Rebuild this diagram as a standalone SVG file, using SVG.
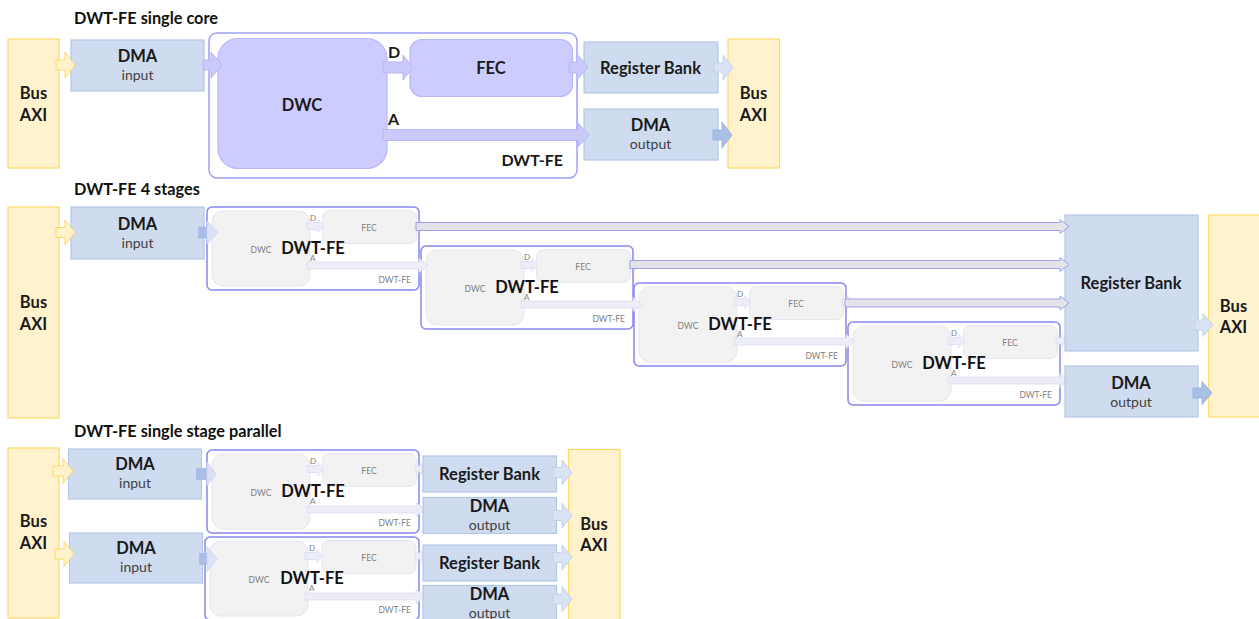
<svg xmlns="http://www.w3.org/2000/svg" width="1259" height="619" viewBox="0 0 1259 619">
<style>
text{font-family:Lato,"Open Sans","Liberation Sans",sans-serif;}
.title{font-size:16.3px;font-weight:bold;fill:#111;}
.bus{fill:#fff2cc;stroke:#ffd966;stroke-width:1.2;}
.blue{fill:#cfdcf0;stroke:#b4c7e7;stroke-width:1.2;}
.lbl{font-size:16.5px;font-weight:bold;fill:#1a1a1a;text-anchor:middle;}
.lbll{font-size:16px;font-weight:bold;fill:#1a1a1a;}
.sub{font-size:14px;fill:#404040;text-anchor:middle;}
.cont{fill:none;stroke:#a0a0fa;stroke-width:1.5;}
.purp{fill:#ccccff;stroke:#b6b6fb;stroke-width:1.2;}
.parr{fill:#c9c9fa;stroke:#b8b8f5;stroke-width:1;}
.yarr{fill:#fff2cc;stroke:#ffd966;stroke-width:1;}
.barr{fill:#dae3f3;stroke:#c3d1ec;stroke-width:1;}
.darr{fill:#aabfe6;stroke:#9db4e0;stroke-width:1;}
.stc{fill:none;stroke:#8787ee;stroke-width:1.5;}
.sbox{fill:#f2f2f2;stroke:#e6e6f3;stroke-width:1;}
.sarr{fill:#ededf7;stroke:#dcdcf3;stroke-width:0.8;}
.ssm{font-size:8.5px;fill:#7f7f7f;}
.sd{font-size:8px;fill:#7f7f7f;}
.big{font-size:16.5px;font-weight:bold;fill:#111;text-anchor:middle;}
.long{fill:#e4e4e8;stroke:#a0a0f0;stroke-width:1;}
.sq{fill:#a9bde6;stroke:none;}
.shead{fill:#dde0f4;stroke:#ccd0f0;stroke-width:0.8;}
</style>

<!-- Titles -->
<text class="title" x="74" y="24">DWT-FE single core</text>
<text class="title" x="74" y="195">DWT-FE 4 stages</text>
<text class="title" x="74" y="437">DWT-FE single stage parallel</text>

<!-- ===== Section 1 ===== -->
<g id="s1-bus-left"><rect class="bus" x="8" y="39" width="51" height="129"/><text class="lbl" x="33.5" y="99">Bus</text><text class="lbl" x="33.5" y="121">AXI</text></g>
<g id="s1-dma-input"><rect class="blue" x="71" y="40" width="133" height="51"/><text class="lbl" x="137.5" y="62">DMA</text><text class="sub" x="137.5" y="80">input</text></g>
<g id="s1-dwtfe"><rect class="cont" x="209" y="33" width="368" height="145" rx="8"/><text class="lbll" x="563" y="166" text-anchor="end">DWT-FE</text></g>
<g id="s1-dwc"><rect class="purp" x="218" y="38.5" width="169" height="130" rx="20"/><text class="lbl" x="302" y="111">DWC</text></g>
<g id="s1-fec"><rect class="purp" x="410" y="39.5" width="162.5" height="57" rx="12"/><text class="lbl" x="491" y="74">FEC</text></g>
<g id="s1-regbank"><rect class="blue" x="584" y="42" width="134" height="51"/><text class="lbl" x="650.5" y="74">Register Bank</text></g>
<g id="s1-dma-output"><rect class="blue" x="584" y="109" width="134" height="51"/><text class="lbl" x="650.5" y="131">DMA</text><text class="sub" x="650.5" y="148.5">output</text></g>
<g id="s1-bus-right"><rect class="bus" x="728" y="39" width="51.5" height="129"/><text class="lbl" x="753.5" y="99">Bus</text><text class="lbl" x="753.5" y="121">AXI</text></g>

<!-- ===== Section 2 ===== -->
<g id="s2-bus-left"><rect class="bus" x="8" y="207" width="51" height="211"/><text class="lbl" x="33.5" y="308">Bus</text><text class="lbl" x="33.5" y="330">AXI</text></g>
<g id="s2-dma-input"><rect class="blue" x="71" y="207" width="133" height="52"/><text class="lbl" x="137.5" y="229.5">DMA</text><text class="sub" x="137.5" y="247.5">input</text></g>

<g id="s2-stage4" transform="translate(848,322)">
<rect class="stc" x="0" y="0" width="212" height="83" rx="5"/>
<rect class="sbox" x="5" y="4" width="98" height="75" rx="11"/>
<rect class="sbox" x="115.5" y="3.5" width="94" height="33" rx="7"/>
<polygon class="sarr" points="100,15.5 111,15.5 111,12.5 117,19 111,25.5 111,22.5 100,22.5"/>
<polygon class="sarr" points="100,55 212,55 212,51.5 221,58.5 212,65.5 212,62 100,62"/>
<polygon class="sarr" points="208,16 213,16 213,13 218,19 213,25 213,22 208,22"/>
<text class="ssm" x="54" y="46" text-anchor="middle">DWC</text><text class="ssm" x="162" y="23.5" text-anchor="middle">FEC</text>
<text class="sd" x="103" y="13.5">D</text><text class="sd" x="103" y="53.5">A</text>
<text class="ssm" x="204" y="76" text-anchor="end">DWT-FE</text>
<text class="big" x="106" y="47">DWT-FE</text>
</g>
<g id="s2-stage3" transform="translate(634,283)">
<rect class="stc" x="0" y="0" width="212" height="83" rx="5"/>
<rect class="sbox" x="5" y="4" width="98" height="75" rx="11"/>
<rect class="sbox" x="115.5" y="3.5" width="94" height="33" rx="7"/>
<polygon class="sarr" points="100,15.5 111,15.5 111,12.5 117,19 111,25.5 111,22.5 100,22.5"/>
<polygon class="sarr" points="100,55 212,55 212,51.5 221,58.5 212,65.5 212,62 100,62"/>
<polygon class="sarr" points="208,16 213,16 213,13 218,19 213,25 213,22 208,22"/>
<text class="ssm" x="54" y="46" text-anchor="middle">DWC</text><text class="ssm" x="162" y="23.5" text-anchor="middle">FEC</text>
<text class="sd" x="103" y="13.5">D</text><text class="sd" x="103" y="53.5">A</text>
<text class="ssm" x="204" y="76" text-anchor="end">DWT-FE</text>
<text class="big" x="106" y="47">DWT-FE</text>
</g>
<g id="s2-stage2" transform="translate(421,246)">
<rect class="stc" x="0" y="0" width="212" height="83" rx="5"/>
<rect class="sbox" x="5" y="4" width="98" height="75" rx="11"/>
<rect class="sbox" x="115.5" y="3.5" width="94" height="33" rx="7"/>
<polygon class="sarr" points="100,15.5 111,15.5 111,12.5 117,19 111,25.5 111,22.5 100,22.5"/>
<polygon class="sarr" points="100,55 212,55 212,51.5 221,58.5 212,65.5 212,62 100,62"/>
<polygon class="sarr" points="208,16 213,16 213,13 218,19 213,25 213,22 208,22"/>
<text class="ssm" x="54" y="46" text-anchor="middle">DWC</text><text class="ssm" x="162" y="23.5" text-anchor="middle">FEC</text>
<text class="sd" x="103" y="13.5">D</text><text class="sd" x="103" y="53.5">A</text>
<text class="ssm" x="204" y="76" text-anchor="end">DWT-FE</text>
<text class="big" x="106" y="47">DWT-FE</text>
</g>
<g id="s2-stage1" transform="translate(207,207)">
<rect class="stc" x="0" y="0" width="212" height="83" rx="5"/>
<rect class="sbox" x="5" y="4" width="98" height="75" rx="11"/>
<rect class="sbox" x="115.5" y="3.5" width="94" height="33" rx="7"/>
<polygon class="sarr" points="100,15.5 111,15.5 111,12.5 117,19 111,25.5 111,22.5 100,22.5"/>
<polygon class="sarr" points="100,55 212,55 212,51.5 221,58.5 212,65.5 212,62 100,62"/>
<polygon class="sarr" points="208,16 213,16 213,13 218,19 213,25 213,22 208,22"/>
<text class="ssm" x="54" y="46" text-anchor="middle">DWC</text><text class="ssm" x="162" y="23.5" text-anchor="middle">FEC</text>
<text class="sd" x="103" y="13.5">D</text><text class="sd" x="103" y="53.5">A</text>
<text class="ssm" x="204" y="76" text-anchor="end">DWT-FE</text>
<text class="big" x="106" y="47">DWT-FE</text>
</g>

<g id="s2-regbank"><rect class="blue" x="1065" y="215" width="133" height="136"/><text class="lbl" x="1131" y="289">Register Bank</text></g>
<g id="s2-dma-output"><rect class="blue" x="1065" y="366" width="133" height="51"/><text class="lbl" x="1131" y="388.5">DMA</text><text class="sub" x="1131" y="407">output</text></g>
<g id="s2-bus-right"><rect class="bus" x="1208.5" y="215" width="52" height="202"/><text class="lbl" x="1233.5" y="312">Bus</text><text class="lbl" x="1233.5" y="333">AXI</text></g>

<!-- ===== Section 3 ===== -->
<g id="s3-bus-left"><rect class="bus" x="8" y="448" width="51" height="170"/><text class="lbl" x="33.5" y="527">Bus</text><text class="lbl" x="33.5" y="548.5">AXI</text></g>
<g id="s3-dma-input1"><rect class="blue" x="68.5" y="449" width="133" height="50"/><text class="lbl" x="135" y="470">DMA</text><text class="sub" x="135" y="488">input</text></g>
<g id="s3-dma-input2"><rect class="blue" x="69.5" y="533" width="133" height="50"/><text class="lbl" x="136" y="553.5">DMA</text><text class="sub" x="136" y="571.5">input</text></g>

<g id="s3-stageA" transform="translate(207,450)">
<rect class="stc" x="0" y="0" width="212" height="83" rx="5"/>
<rect class="sbox" x="5" y="4" width="98" height="75" rx="11"/>
<rect class="sbox" x="115.5" y="3.5" width="94" height="33" rx="7"/>
<polygon class="sarr" points="100,15.5 111,15.5 111,12.5 117,19 111,25.5 111,22.5 100,22.5"/>
<polygon class="sarr" points="100,56 209,56 209,52.5 218,59.5 209,66.5 209,63 100,63"/>
<polygon class="sarr" points="208,16 213,16 213,13 218,19 213,25 213,22 208,22"/>
<text class="ssm" x="54" y="46" text-anchor="middle">DWC</text><text class="ssm" x="162" y="23.5" text-anchor="middle">FEC</text>
<text class="sd" x="103" y="13.5">D</text><text class="sd" x="103" y="54">A</text>
<text class="ssm" x="204" y="76" text-anchor="end">DWT-FE</text>
<text class="big" x="106" y="47">DWT-FE</text>
</g>
<g id="s3-stageB" transform="translate(205,537)">
<rect class="stc" x="0" y="0" width="214" height="83" rx="5"/>
<rect class="sbox" x="5" y="4" width="98" height="75" rx="11"/>
<rect class="sbox" x="117" y="3.5" width="94" height="33" rx="7"/>
<polygon class="sarr" points="100,15.5 112,15.5 112,12.5 118,19 112,25.5 112,22.5 100,22.5"/>
<polygon class="sarr" points="100,56 211,56 211,52.5 220,59.5 211,66.5 211,63 100,63"/>
<polygon class="sarr" points="210,16 215,16 215,13 220,19 215,25 215,22 210,22"/>
<text class="ssm" x="54" y="46" text-anchor="middle">DWC</text><text class="ssm" x="164" y="23.5" text-anchor="middle">FEC</text>
<text class="sd" x="104" y="13.5">D</text><text class="sd" x="104" y="54">A</text>
<text class="ssm" x="206" y="76" text-anchor="end">DWT-FE</text>
<text class="big" x="107" y="47">DWT-FE</text>
</g>

<g id="s3-regbank1"><rect class="blue" x="423" y="456" width="133.5" height="36"/><text class="lbl" x="489.5" y="479.5">Register Bank</text></g>
<g id="s3-dma-output1"><rect class="blue" x="423" y="497.5" width="133.5" height="36"/><text class="lbl" x="489.5" y="512">DMA</text><text class="sub" x="489.5" y="530">output</text></g>
<g id="s3-regbank2"><rect class="blue" x="423" y="545" width="133.5" height="36"/><text class="lbl" x="489.5" y="568.5">Register Bank</text></g>
<g id="s3-dma-output2"><rect class="blue" x="423" y="585.5" width="133.5" height="36"/><text class="lbl" x="489.5" y="599.5">DMA</text><text class="sub" x="489.5" y="617.5">output</text></g>
<g id="s3-bus-right"><rect class="bus" x="568.5" y="449.5" width="51.5" height="172"/><text class="lbl" x="594" y="530">Bus</text><text class="lbl" x="594" y="551">AXI</text></g>

<!-- ===== Connectors ===== -->
<g id="connectors">
<!-- section 1 -->
<polygon class="yarr" points="56,60 65,60 65,52 75,65 65,78 65,70 56,70"/>
<polygon class="parr" points="203,60 211,60 211,52 222,65 211,78 211,70 203,70"/>
<polygon class="parr" points="383,62 403,62 403,55 413,67.5 403,80 403,73 383,73"/>
<text class="lbll" x="388" y="58">D</text>
<polygon class="parr" points="383,129.5 578,129.5 578,123 589,135 578,147 578,140.5 383,140.5"/>
<text class="lbll" x="388" y="125">A</text>
<polygon class="parr" points="569,62 577,62 577,54 588,67 577,80 577,73 569,73"/>
<polygon class="barr" points="714,63 723,63 723,55 733,67.5 723,80 723,72 714,72"/>
<polygon class="darr" points="713,130 722,130 722,122 732,135 722,148 722,140 713,140"/>
<!-- section 2 -->
<polygon class="yarr" points="56,227.5 65,227.5 65,220 75,232.5 65,245 65,237.5 56,237.5"/>
<rect class="sq" x="198" y="226.5" width="9" height="12"/>
<polygon class="shead" points="207,221 218,232.5 207,244"/>
<polygon class="long" points="416,222.5 1060,222.5 1060,219.5 1069,226.5 1060,233.5 1060,230.5 416,230.5"/>
<polygon class="long" points="630,260.5 1060,260.5 1060,257.5 1069,264.5 1060,271.5 1060,268.5 630,268.5"/>
<polygon class="long" points="845,299 1060,299 1060,296 1069,303 1060,310 1060,307 845,307"/>
<polygon class="barr" points="1195,320 1203,320 1203,313.5 1213,325 1203,336.5 1203,330 1195,330"/>
<polygon class="darr" points="1193,388 1202,388 1202,381.5 1212,393 1202,404.5 1202,398 1193,398"/>
<!-- section 3 -->
<polygon class="yarr" points="53,466 63,466 63,458.5 73,471 63,483.5 63,476 53,476"/>
<polygon class="yarr" points="55,549 64,549 64,541.5 74,554 64,566.5 64,559 55,559"/>
<rect class="sq" x="196" y="468" width="11" height="12"/>
<polygon class="shead" points="207,462 216,474 207,486"/>
<rect class="sq" x="199" y="553" width="8" height="12"/>
<polygon class="shead" points="207,546.5 217,559 207,571.5"/>
<polygon class="barr" points="553,467.5 562,467.5 562,460 572,472.5 562,485 562,477.5 553,477.5"/>
<polygon class="barr" points="553,510.5 562,510.5 562,503 572,515.5 562,528 562,520.5 553,520.5"/>
<polygon class="barr" points="553,552.5 562,552.5 562,545 572,557.5 562,570 562,562.5 553,562.5"/>
<polygon class="barr" points="553,594 562,594 562,586.5 572,599 562,611.5 562,604 553,604"/>
</g>
</svg>
